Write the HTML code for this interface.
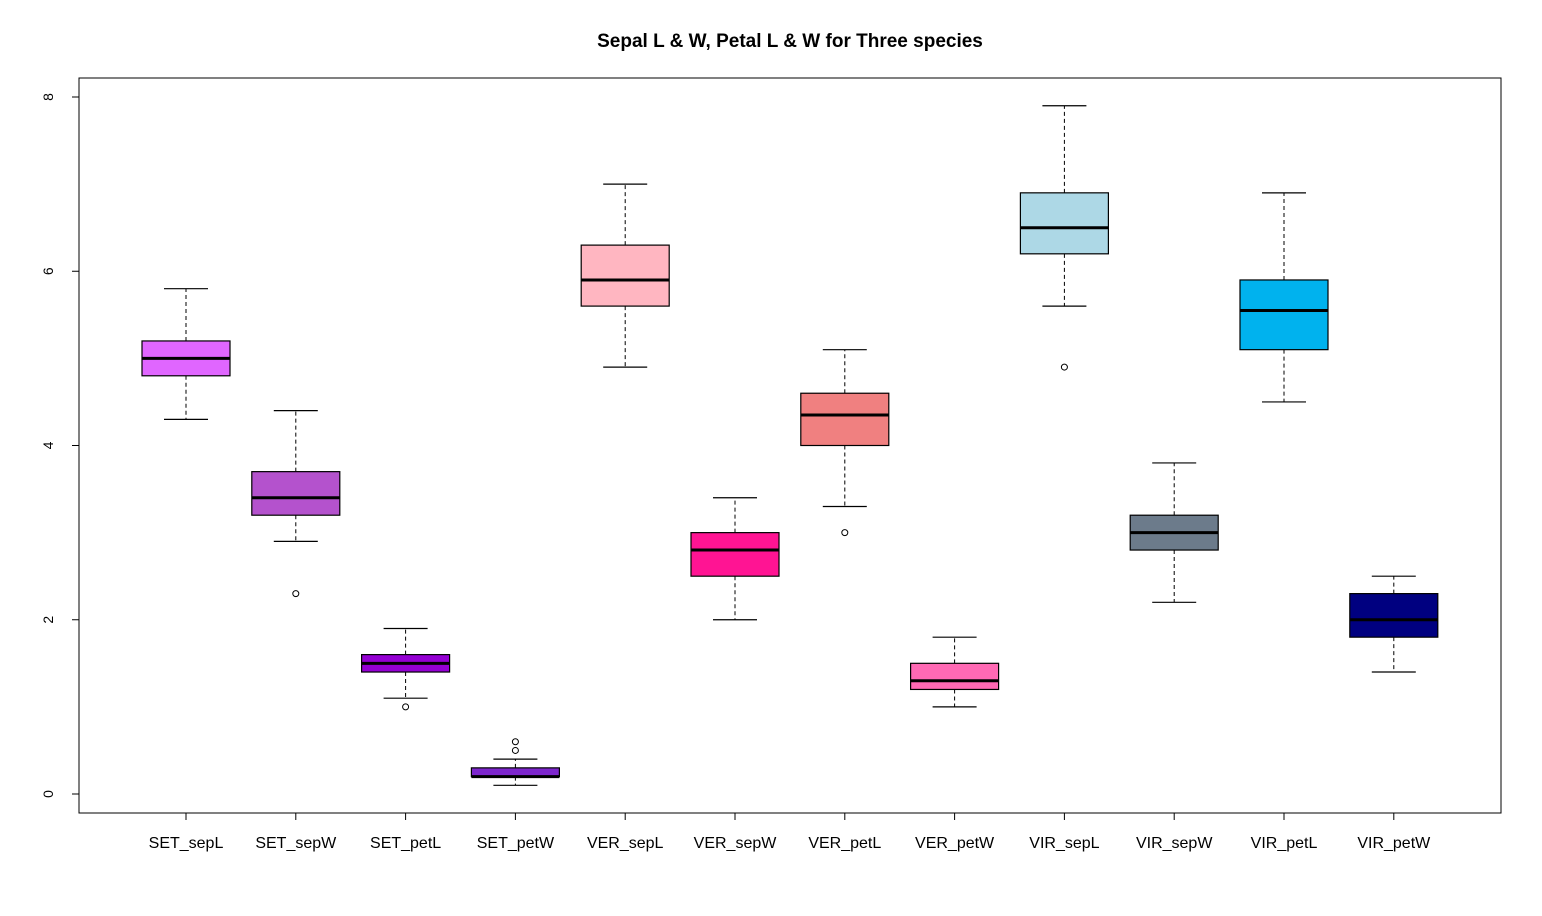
<!DOCTYPE html>
<html><head><meta charset="utf-8"><style>
body{margin:0;background:#fff}
svg text{font-family:"Liberation Sans",Arial,sans-serif}
</style></head><body>
<svg id="chart" width="1542" height="911" xmlns="http://www.w3.org/2000/svg">
<rect width="1542" height="911" fill="#fff"/>
<text x="790" y="47" text-anchor="middle" font-size="19" font-weight="bold">Sepal L &amp; W, Petal L &amp; W for Three species</text>
<rect x="79" y="78" width="1422" height="735" fill="none" stroke="#000" stroke-width="1"/>
<g id="marks"></g>
</svg>
<script>
const categories=["SET_sepL","SET_sepW","SET_petL","SET_petW","VER_sepL","VER_sepW","VER_petL","VER_petW","VIR_sepL","VIR_sepW","VIR_petL","VIR_petW"];
const lowerWhisker=[4.3,2.9,1.1,0.1,4.9,2.0,3.3,1.0,5.6,2.2,4.5,1.4];
const q1=[4.8,3.2,1.4,0.2,5.6,2.5,4.0,1.2,6.2,2.8,5.1,1.8];
const medians=[5.0,3.4,1.5,0.2,5.9,2.8,4.35,1.3,6.5,3.0,5.55,2.0];
const q3=[5.2,3.7,1.6,0.3,6.3,3.0,4.6,1.5,6.9,3.2,5.9,2.3];
const upperWhisker=[5.8,4.4,1.9,0.4,7.0,3.4,5.1,1.8,7.9,3.8,6.9,2.5];
const outliers=[[],[2.3],[1.0],[0.5,0.6],[],[],[3.0],[],[4.9],[],[],[]];
const colors=["#E066FF","#B452CD","#9400D3","#7D26CD","#FFB6C1","#FF1493","#F08080","#FF69B4","#ADD8E6","#6C7B8B","#00B2EE","#000080"];
const yTicks=[0,2,4,6,8];

const NS="http://www.w3.org/2000/svg";
const g=document.getElementById('marks');
const y=v=>794-v*87.125;
const x=i=>186+i*109.8;
function el(t,a){const e=document.createElementNS(NS,t);for(const k in a)e.setAttribute(k,a[k]);g.appendChild(e);return e;}

yTicks.forEach(v=>{
  const t=el('line',{x1:72,x2:79,y1:y(v),y2:y(v),stroke:'#000'});
  
  
  const l=el('text',{x:0,y:0,'font-size':14,'text-anchor':'middle',transform:`translate(53,${y(v)}) rotate(-90)`});
  l.textContent=v;
  
  
});
categories.forEach((c,i)=>{
  const cx=x(i),hw=44,cw=22;
  const t=el('line',{x1:cx,x2:cx,y1:813,y2:820,stroke:'#000'});
  
  
  const l=el('text',{x:cx,y:848,'font-size':16,'text-anchor':'middle'});
  l.textContent=c;
  
  
  const w1=el('line',{x1:cx,x2:cx,y1:y(q3[i]),y2:y(upperWhisker[i]),stroke:'#000','stroke-dasharray':'4,3'});
  
  
  const w2=el('line',{x1:cx,x2:cx,y1:y(q1[i]),y2:y(lowerWhisker[i]),stroke:'#000','stroke-dasharray':'4,3'});
  
  
  const c1=el('line',{x1:cx-cw,x2:cx+cw,y1:y(upperWhisker[i]),y2:y(upperWhisker[i]),stroke:'#000','stroke-width':1.2});
  
  
  const c2=el('line',{x1:cx-cw,x2:cx+cw,y1:y(lowerWhisker[i]),y2:y(lowerWhisker[i]),stroke:'#000','stroke-width':1.2});
  
  
  const b=el('rect',{x:cx-hw,y:y(q3[i]),width:2*hw,height:y(q1[i])-y(q3[i]),fill:colors[i],stroke:'#000','stroke-width':1.2});
  
  
  const m=el('line',{x1:cx-hw,x2:cx+hw,y1:y(medians[i]),y2:y(medians[i]),stroke:'#000','stroke-width':3});
  
  
  outliers[i].forEach(o=>{
    const p=el('circle',{cx:cx,cy:y(o),r:3,fill:'none',stroke:'#000'});
    
    
  });
});
</script>
</body></html>
